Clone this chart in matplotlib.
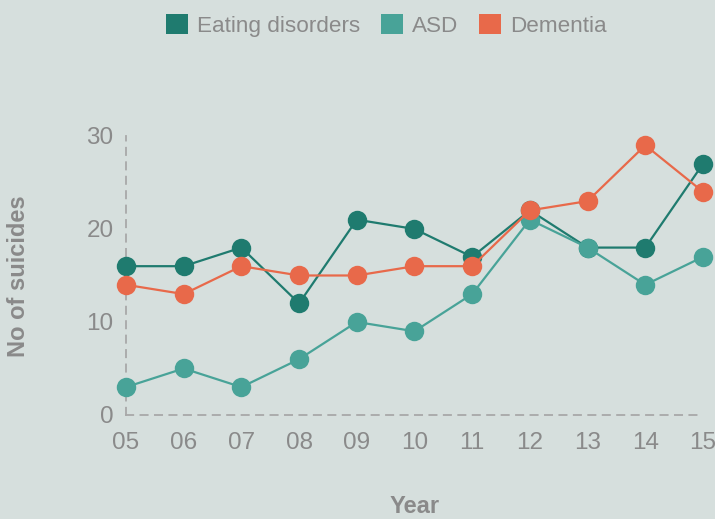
import matplotlib.pyplot as plt
from matplotlib.patches import Patch

plt.rcParams['font.family'] = ['Liberation Sans', 'DejaVu Sans']

years = ['05', '06', '07', '08', '09', '10', '11', '12', '13', '14', '15']
eating = [16, 16, 18, 12, 21, 20, 17, 22, 18, 18, 27]
asd = [3, 5, 3, 6, 10, 9, 13, 21, 18, 14, 17]
dementia = [14, 13, 16, 15, 15, 16, 16, 22, 23, 29, 24]

bg = '#d6dfdd'
grey = '#8a8a8a'
colors = {'Eating disorders': '#1f7b6f', 'ASD': '#48a398', 'Dementia': '#e8694a'}

fig = plt.figure(figsize=(7.15, 5.19), dpi=100, facecolor=bg)
ax = fig.add_axes([0.1762, 0.2004, 0.807, 0.5376], facecolor=bg)

x = range(len(years))
for name, vals in [('Eating disorders', eating), ('ASD', asd), ('Dementia', dementia)]:
    ax.plot(x, vals, color=colors[name], lw=1.6, marker='o', markersize=14,
            markeredgewidth=0, clip_on=False, zorder=3)

ax.set_xlim(0, len(years) - 1)
ax.set_ylim(0, 30)
ax.set_xticks(list(x))
ax.set_xticklabels(years)
ax.set_yticks([0, 10, 20, 30])
ax.tick_params(length=0, labelsize=17.5, labelcolor=grey)
ax.tick_params(axis='x', pad=12)
ax.tick_params(axis='y', pad=9)

for s in ['top', 'right']:
    ax.spines[s].set_visible(False)
for s in ['left', 'bottom']:
    ax.spines[s].set_color('#a8a8a8')
    ax.spines[s].set_linestyle((0, (4, 4)))
    ax.spines[s].set_linewidth(1.3)

fig.text(0.026, 0.468, 'No of suicides', rotation=90, ha='center', va='center',
         fontsize=17, fontweight='bold', color=grey)
fig.text(0.58, 0.002, 'Year', ha='center', va='bottom',
         fontsize=17, fontweight='bold', color=grey)

handles = [Patch(facecolor=c, edgecolor='none', label=n) for n, c in colors.items()]
fig.legend(handles=handles, loc='upper center', bbox_to_anchor=(0.54, 1.012), ncol=3,
           frameon=False, fontsize=16.2, labelcolor=grey, handlelength=1.0, handleheight=1.0,
           handletextpad=0.4, columnspacing=0.9)

fig.savefig('out.png', dpi=100, facecolor=bg)
